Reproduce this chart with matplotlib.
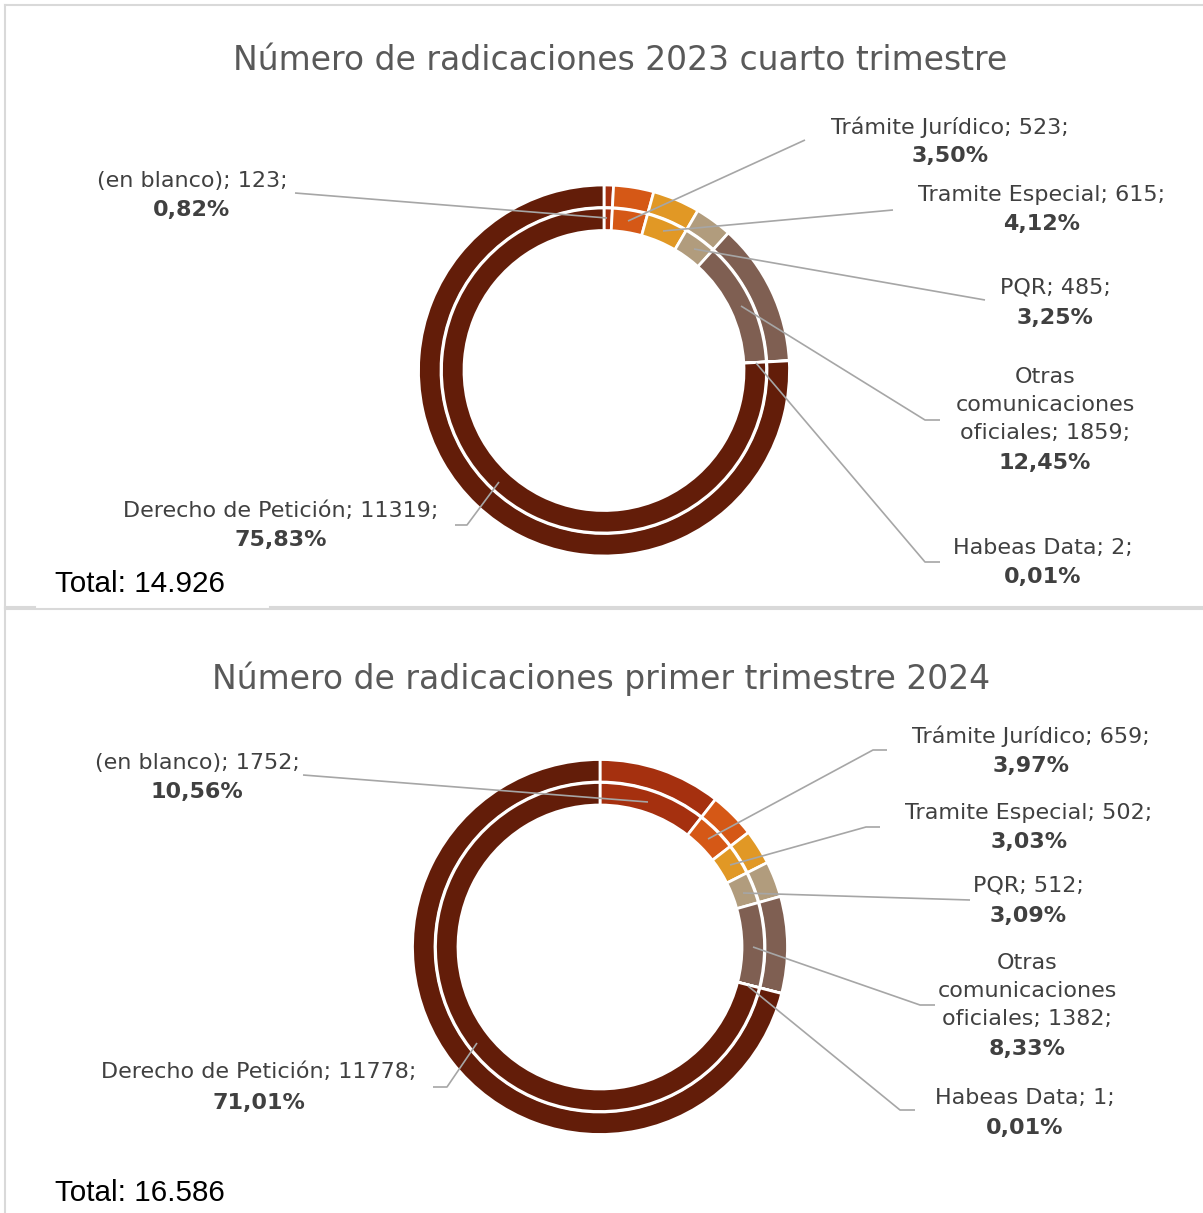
import matplotlib
matplotlib.use("Agg")
import matplotlib.pyplot as plt

W, H = 1203, 1213

categories = ["(en blanco)", "Trámite Jurídico", "Tramite Especial", "PQR",
              "Otras comunicaciones oficiales", "Habeas Data", "Derecho de Petición"]
values_2023q4 = [123, 523, 615, 485, 1859, 2, 11319]
values_2024q1 = [1752, 659, 502, 512, 1382, 1, 11778]
pct_2023q4 = ["0,82%", "3,50%", "4,12%", "3,25%", "12,45%", "0,01%", "75,83%"]
pct_2024q1 = ["10,56%", "3,97%", "3,03%", "3,09%", "8,33%", "0,01%", "71,01%"]
titles = ["Número de radicaciones 2023 cuarto trimestre",
          "Número de radicaciones primer trimestre 2024"]
totals = ["Total: 14.926", "Total: 16.586"]

colors = ["#A5300F", "#D55816", "#E19825", "#B19C7D", "#7F5F52", "#B27D49", "#631D09"]

TXT = "#404040"
LINE = "#A6A6A6"
plt.rcParams["font.family"] = ["DejaVu Sans"]

fig = plt.figure(figsize=(W / 100, H / 100), dpi=100)
ax = fig.add_axes([0, 0, 1, 1])

FS = 16
TFS = 23.8


def Y(y):
    return H - y


def donut(vals, cx, cy, r_out, r_in, wid):
    for r in (r_out, r_in):
        ax.pie(vals, colors=colors, center=(cx, Y(cy)), radius=r, startangle=90,
               counterclock=False,
               wedgeprops=dict(width=wid, edgecolor="white", linewidth=2.0))


def label(lines_txt, pct, cx, ys, fs=FS):
    for t, y in zip(lines_txt, ys[:-1]):
        ax.text(cx, Y(y), t, ha="center", va="center", fontsize=fs, color=TXT)
    ax.text(cx, Y(ys[-1]), pct, ha="center", va="center", fontsize=fs,
            color=TXT, fontweight="bold")


def leader(pts):
    xs = [p[0] for p in pts]
    ys = [Y(p[1]) for p in pts]
    ax.plot(xs, ys, color=LINE, lw=1.2, solid_capstyle="butt")


# ---------- panel borders ----------
c = "#D9D9D9"
ax.plot([5, 5], [Y(5), Y(607)], color=c, lw=1.5)
ax.plot([5, W + 5], [Y(5), Y(5)], color=c, lw=1.5)
ax.plot([5, 35], [Y(607), Y(607)], color=c, lw=1.5)
ax.plot([270, W + 5], [Y(607), Y(607)], color=c, lw=1.5)
ax.plot([5, 5], [Y(609), Y(H + 5)], color=c, lw=1.5)
ax.plot([5, W + 5], [Y(609), Y(609)], color=c, lw=1.5)

# ---------- chart 1 ----------
ax.text(620, Y(60), titles[0], ha="center", va="center", fontsize=TFS, color="#595959")
donut(values_2023q4, 604, 370.5, 185.5, 162.5, 22.5)

v, p = values_2023q4, pct_2023q4
label([f"{categories[0]}; {v[0]};"], p[0], 192, [181, 210])
leader([(295, 193), (607, 218)])
label([f"{categories[1]}; {v[1]};"], p[1], 950, [127, 156])
leader([(805, 140), (628, 221)])
label([f"{categories[2]}; {v[2]};"], p[2], 1042, [195, 224])
leader([(893, 210), (663, 231)])
label([f"{categories[3]}; {v[3]};"], p[3], 1055, [287, 318])
leader([(985, 300), (694, 249)])
label(["Otras", "comunicaciones", f"oficiales; {v[4]};"], p[4], 1045, [377, 405, 433, 463])
leader([(940, 420), (925, 420), (741, 306)])
label([f"{categories[5]}; {v[5]};"], p[5], 1043, [548, 577])
leader([(940, 562), (925, 562), (756, 363)])
label([f"{categories[6]}; {v[6]};"], p[6], 281, [511, 540])
leader([(455, 525), (467, 525), (499, 482)])

ax.text(55, Y(584), totals[0], ha="left", va="center", fontsize=21.3,
        color="black", family=["Liberation Sans"])

# ---------- chart 2 ----------
ax.text(601, Y(679), titles[1], ha="center", va="center", fontsize=TFS, color="#595959")
donut(values_2024q1, 600, 947, 187.5, 164.5, 22.5)

v, p = values_2024q1, pct_2024q1
label([f"{categories[0]}; {v[0]};"], p[0], 197, [763, 792])
leader([(303, 775), (648, 802)])
label([f"{categories[1]}; {v[1]};"], p[1], 1031, [736, 766])
leader([(887, 750), (873, 750), (708, 839)])
label([f"{categories[2]}; {v[2]};"], p[2], 1029, [813, 842])
leader([(880, 827), (866, 827), (730, 865)])
label([f"{categories[3]}; {v[3]};"], p[3], 1028, [886, 916])
leader([(970, 900), (743, 893)])
label(["Otras", "comunicaciones", f"oficiales; {v[4]};"], p[4], 1027, [963, 991, 1019, 1049])
leader([(935, 1005), (920, 1005), (753, 947)])
label([f"{categories[5]}; {v[5]};"], p[5], 1025, [1098, 1128])
leader([(915, 1110), (900, 1110), (748, 986)])
label([f"{categories[6]}; {v[6]};"], p[6], 259, [1072, 1103])
leader([(433, 1087), (447, 1087), (477, 1043)])

ax.text(55, Y(1193), totals[1], ha="left", va="center", fontsize=21.3,
        color="black", family=["Liberation Sans"])

ax.set_xlim(0, W)
ax.set_ylim(0, H)
ax.set_aspect("auto")
ax.axis("off")

fig.savefig("out.png", dpi=100, facecolor="white")
